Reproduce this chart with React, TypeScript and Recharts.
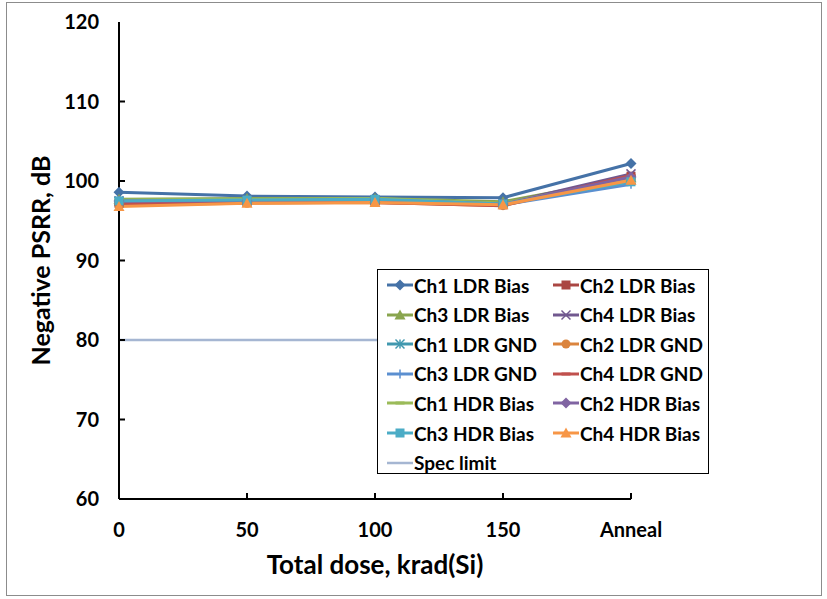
import React from "react";
import {
  LineChart, Line, XAxis, YAxis, Label
} from "recharts";

// total dose categories (krad(Si)), last point is after anneal
const doses = ["0", "50", "100", "150", "Anneal"];
const yTicks = [60, 70, 80, 90, 100, 110, 120];

const ch1LdrBias = [98.6, 98.1, 98.0, 97.9, 102.2];
const ch2LdrBias = [97.2, 97.3, 97.3, 97.0, 100.6];
const ch3LdrBias = [97.7, 97.8, 97.8, 97.4, 100.4];
const ch4LdrBias = [97.5, 97.6, 97.6, 97.1, 100.9];
const ch1LdrGnd = [97.4, 97.5, 97.6, 97.1, 100.2];
const ch2LdrGnd = [97.0, 97.2, 97.3, 96.9, 100.3];
const ch3LdrGnd = [97.3, 97.4, 97.5, 97.0, 99.6];
const ch4LdrGnd = [97.1, 97.3, 97.3, 96.9, 100.7];
const ch1HdrBias = [97.6, 97.7, 97.8, 97.2, 100.3];
const ch2HdrBias = [97.5, 97.5, 97.6, 97.1, 100.5];
const ch3HdrBias = [97.5, 97.6, 97.7, 97.1, 99.9];
const ch4HdrBias = [96.8, 97.2, 97.3, 97.0, 100.1];
const specLimit = [80, 80, 80, 80, 80];

type Marker = "diamond" | "square" | "triangle" | "x" | "star" | "circle" | "plus" | "dash" | "none";

const series: { key: string; name: string; color: string; marker: Marker; values: number[] }[] = [
  { key: "s1", name: "Ch1 LDR Bias", color: "#4572A7", marker: "diamond", values: ch1LdrBias },
  { key: "s2", name: "Ch2 LDR Bias", color: "#AA4643", marker: "square", values: ch2LdrBias },
  { key: "s3", name: "Ch3 LDR Bias", color: "#89A54E", marker: "triangle", values: ch3LdrBias },
  { key: "s4", name: "Ch4 LDR Bias", color: "#71588F", marker: "x", values: ch4LdrBias },
  { key: "s5", name: "Ch1 LDR GND", color: "#4198AF", marker: "star", values: ch1LdrGnd },
  { key: "s6", name: "Ch2 LDR GND", color: "#DB843D", marker: "circle", values: ch2LdrGnd },
  { key: "s7", name: "Ch3 LDR GND", color: "#5B8FD0", marker: "plus", values: ch3LdrGnd },
  { key: "s8", name: "Ch4 LDR GND", color: "#C0504D", marker: "dash", values: ch4LdrGnd },
  { key: "s9", name: "Ch1 HDR Bias", color: "#9BBB59", marker: "dash", values: ch1HdrBias },
  { key: "s10", name: "Ch2 HDR Bias", color: "#8064A2", marker: "diamond", values: ch2HdrBias },
  { key: "s11", name: "Ch3 HDR Bias", color: "#4BACC6", marker: "square", values: ch3HdrBias },
  { key: "s12", name: "Ch4 HDR Bias", color: "#F79646", marker: "triangle", values: ch4HdrBias },
  { key: "spec", name: "Spec limit", color: "#A5B6D2", marker: "none", values: specLimit },
];

const data = doses.map((d, i) => {
  const row: any = { dose: d };
  series.forEach((s) => { row[s.key] = s.values[i]; });
  return row;
});

const FONT = "Lato, 'Open Sans', sans-serif";

function MarkerShape({ cx, cy, color, type }: { cx: number; cy: number; color: string; type: Marker }) {
  const s = 4.5;
  switch (type) {
    case "diamond":
      return <polygon points={`${cx},${cy - s - 1} ${cx + s + 1},${cy} ${cx},${cy + s + 1} ${cx - s - 1},${cy}`} fill={color} />;
    case "square":
      return <rect x={cx - s} y={cy - s} width={s * 2} height={s * 2} fill={color} />;
    case "triangle":
      return <polygon points={`${cx},${cy - s - 1} ${cx + s + 1},${cy + s} ${cx - s - 1},${cy + s}`} fill={color} />;
    case "x":
      return (
        <g stroke={color} strokeWidth={1.5}>
          <line x1={cx - s} y1={cy - s} x2={cx + s} y2={cy + s} />
          <line x1={cx - s} y1={cy + s} x2={cx + s} y2={cy - s} />
        </g>
      );
    case "star":
      return (
        <g stroke={color} strokeWidth={1.5}>
          <line x1={cx - s} y1={cy - s} x2={cx + s} y2={cy + s} />
          <line x1={cx - s} y1={cy + s} x2={cx + s} y2={cy - s} />
          <line x1={cx} y1={cy - s} x2={cx} y2={cy + s} />
        </g>
      );
    case "circle":
      return <circle cx={cx} cy={cy} r={s} fill={color} />;
    case "plus":
      return (
        <g stroke={color} strokeWidth={1.5}>
          <line x1={cx - s} y1={cy} x2={cx + s} y2={cy} />
          <line x1={cx} y1={cy - s} x2={cx} y2={cy + s} />
        </g>
      );
    case "dash":
      return <line x1={cx - s} y1={cy} x2={cx + s} y2={cy} stroke={color} strokeWidth={3} />;
    default:
      return null;
  }
}

const XTick = ({ x, y, payload }: any) => (
  <g>
    <line x1={x} y1={y} x2={x} y2={y - 6} stroke="#000" strokeWidth={2} />
    <text x={x} y={y + 38} textAnchor="middle" fontFamily={FONT} fontWeight={700} fontSize={20} fill="#000">
      {payload.value}
    </text>
  </g>
);

const YTick = ({ x, y, payload }: any) => (
  <g>
    {payload.value !== 60 && payload.value !== 120 && (
      <line x1={x} y1={y} x2={x + 6} y2={y} stroke="#000" strokeWidth={2} />
    )}
    <text x={x - 20} y={y + 7} textAnchor="end" fontFamily={FONT} fontWeight={700} fontSize={20} fill="#000">
      {payload.value}
    </text>
  </g>
);

function LegendBox() {
  const rows: any[][] = [];
  for (let i = 0; i < series.length; i += 2) rows.push(series.slice(i, i + 2));
  return (
    <div style={{
      position: "absolute", left: 377, top: 269, width: 332, height: 205,
      border: "1.5px solid #000", background: "#fff", boxSizing: "border-box",
    }}>
      {rows.map((row, r) =>
        row.map((s, c) => (
          <div key={s.key} style={{
            position: "absolute", left: c === 0 ? 9 : 175, top: 3 + r * 29.6, height: 24,
            display: "flex", alignItems: "center",
          }}>
            <svg width={26} height={14}>
              <line x1={0} y1={7} x2={26} y2={7} stroke={s.color} strokeWidth={s.marker === "none" ? 2.5 : 3} />
              <MarkerShape cx={13} cy={7} color={s.color} type={s.marker} />
            </svg>
            <span style={{ fontFamily: FONT, fontWeight: 700, fontSize: 19, color: "#000", marginLeft: 1 }}>
              {s.name}
            </span>
          </div>
        ))
      )}
    </div>
  );
}

export default function App() {
  return (
    <div style={{ position: "absolute", left: 0, top: 0, width: 827, height: 599, background: "#fff" }}>
      <div style={{
        position: "absolute", left: 6, top: 2, width: 816, height: 594,
        border: "1px solid #8c8c8c", boxSizing: "border-box",
      }} />
      <div style={{ position: "absolute", left: 0, top: 0 }}>
        <LineChart width={827} height={599} data={data} margin={{ top: 22, right: 196, left: 0, bottom: 0 }}>
          <XAxis
            dataKey="dose"
            type="category"
            scale="point"
            padding={{ left: 0, right: 0 }}
            height={100}
            tickSize={0}
            tickMargin={0}
            tickLine={false}
            axisLine={{ stroke: "#000", strokeWidth: 2 }}
            tick={<XTick />}
            interval={0}
          >
            <Label
              value="Total dose, krad(Si)"
              position="insideBottom"
              offset={25}
              style={{ fontFamily: FONT, fontWeight: 700, fontSize: 26, fill: "#000" }}
            />
          </XAxis>
          <XAxis xAxisId="top" dataKey="dose" orientation="top" height={0} tick={false} tickLine={false}
            axisLine={{ stroke: "#000", strokeWidth: 2 }} />
          <YAxis
            type="number"
            domain={[60, 120]}
            ticks={yTicks}
            width={119}
            tickSize={0}
            tickMargin={0}
            tickLine={false}
            axisLine={{ stroke: "#000", strokeWidth: 2 }}
            tick={<YTick />}
            interval={0}
          >
            <Label
              content={({ viewBox }: any) => {
                const cx = 40;
                const cy = viewBox.y + viewBox.height / 2;
                return (
                  <text x={cx} y={cy} transform={`rotate(-90 ${cx} ${cy})`} textAnchor="middle"
                    dominantBaseline="central" fontFamily={FONT} fontWeight={700} fontSize={25} fill="#000">
                    Negative PSRR, dB
                  </text>
                );
              }}
            />
          </YAxis>
          <YAxis yAxisId="right" orientation="right" width={0} domain={[60, 120]} tick={false} tickLine={false}
            axisLine={{ stroke: "#000", strokeWidth: 2 }} />
          {series.map((s) => (
            <Line
              key={s.key}
              dataKey={s.key}
              name={s.name}
              stroke={s.color}
              strokeWidth={s.marker === "none" ? 2.5 : 3}
              isAnimationActive={false}
              dot={s.marker === "none" ? false : (p: any) => (
                <MarkerShape key={`${s.key}-${p.index}`} cx={p.cx} cy={p.cy} color={s.color} type={s.marker} />
              )}
              activeDot={false}
            />
          ))}
        </LineChart>
      </div>
      <LegendBox />
    </div>
  );
}
